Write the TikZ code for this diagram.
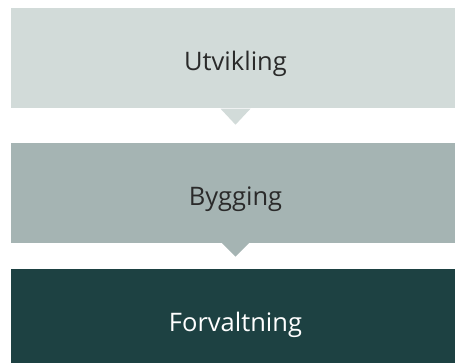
\documentclass[tikz,border=0pt]{standalone}
\usepackage{fontspec}
\setmainfont{Open Sans}
\usetikzlibrary{positioning}
\definecolor{lysgraa}{HTML}{D2DBD9}
\definecolor{mellomgraa}{HTML}{A5B4B3}
\definecolor{morkgronn}{HTML}{1D4142}
\definecolor{tekstgraa}{HTML}{2A2A2A}

\begin{document}
\begin{tikzpicture}[x=1pt,y=1pt]
    \tikzstyle{phase} = [shape=rectangle, minimum width=449pt, minimum height=100pt, inner sep=0pt, font=\fontsize{25.5}{30}\selectfont, text height=25pt, text depth=0pt, text=tekstgraa]
    \useasboundingbox (0,0) rectangle (455,362);
    %Creating Blocks
    \node [phase, fill=lysgraa] (utvikling) at (235.5,303.5) {Utvikling};
    \node [phase, fill=mellomgraa, below=34pt of utvikling] (bygging) {Bygging};
    \node [phase, fill=morkgronn, text=white, below=26pt of bygging] (forvaltning) {Forvaltning};
    %Pointers between blocks
    \fill[lysgraa] ([xshift=-15pt]utvikling.south) -- ([xshift=15pt]utvikling.south) -- ([yshift=-16pt]utvikling.south) -- cycle;
    \fill[mellomgraa] ([xshift=-13.5pt]bygging.south) -- ([xshift=13.5pt]bygging.south) -- ([yshift=-13.5pt]bygging.south) -- cycle;
\end{tikzpicture}
\end{document}
